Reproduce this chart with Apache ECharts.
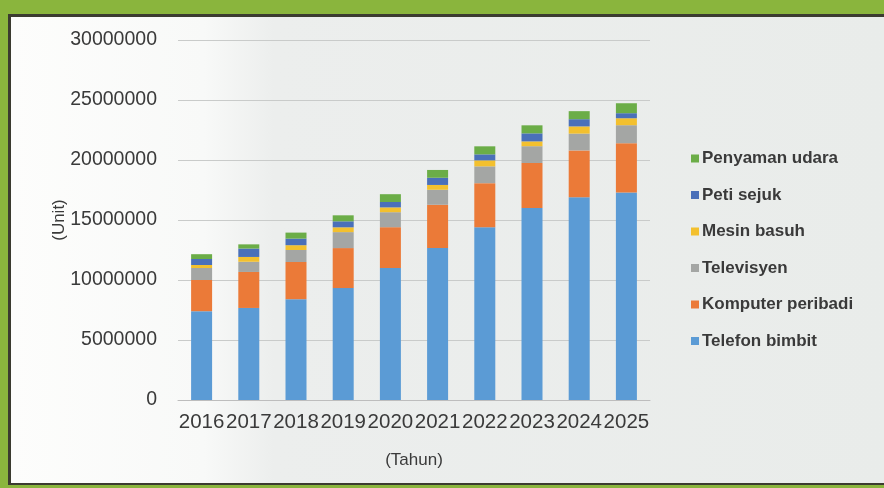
<!DOCTYPE html>
<html>
<head>
<meta charset="utf-8">
<script src="https://cdn.jsdelivr.net/npm/echarts@6/dist/echarts.min.js"></script>
<style>html,body{margin:0;padding:0;background:#8ab53d;}#c{width:884px;height:488px;}</style>
</head>
<body>
<div id="c"></div>
<script>
const years = ['2016','2017','2018','2019','2020','2021','2022','2023','2024','2025'];
const telefonBimbit   = [7400000, 7670000, 8400000, 9330000, 11000000, 12670000, 14400000, 16000000, 16900000, 17300000];
const komputerPeribadi = [2600000, 3000000, 3100000, 3330000, 3400000, 3600000, 3670000, 3750000, 3900000, 4100000];
const televisyen      = [1000000, 850000, 1000000, 1330000, 1250000, 1250000, 1400000, 1400000, 1400000, 1500000];
const mesinBasuh      = [250000, 400000, 400000, 400000, 400000, 400000, 500000, 400000, 600000, 580000];
const petiSejuk       = [500000, 700000, 550000, 500000, 450000, 600000, 500000, 670000, 600000, 420000];
const penyamanUdara   = [400000, 350000, 500000, 500000, 650000, 650000, 670000, 670000, 670000, 830000];
const yTicks = [0, 5000000, 10000000, 15000000, 20000000, 25000000, 30000000];

const names = ['Telefon bimbit','Komputer peribadi','Televisyen','Mesin basuh','Peti sejuk','Penyaman udara'];
const values = [telefonBimbit, komputerPeribadi, televisyen, mesinBasuh, petiSejuk, penyamanUdara];
const colors = ['#5b9bd5','#eb7a38','#a4a6a4','#f3c02e','#4a70b9','#6bad47'];
const FONT = 'Liberation Sans, Arial, sans-serif';

const chart = echarts.init(document.getElementById('c'));
chart.setOption({
  animation: false,
  graphic: [
    {type:'rect', z:-10, silent:true, shape:{x:0,y:0,width:884,height:488}, style:{fill:'#8ab53d'}},
    {type:'rect', z:-9, silent:true, shape:{x:8,y:14,width:880,height:471}, style:{fill:'#3b3b30'}},
    {type:'rect', z:-8, silent:true, shape:{x:11,y:17,width:877,height:466},
      style:{fill:new echarts.graphic.LinearGradient(0,0,1,0,[
        {offset:0,color:'#fdfdfc'},{offset:0.22,color:'#f8f9f8'},{offset:0.3,color:'#eceeed'},{offset:1,color:'#e9ecea'}])}}
  ],
  color: colors,
  legend: {
    orient: 'vertical',
    left: 686,
    top: 145,
    itemWidth: 8,
    itemHeight: 8,
    itemGap: 19.5,
    icon: 'rect',
    data: names.slice().reverse(),
    textStyle: {fontFamily:FONT, fontSize:17, fontWeight:'bold', color:'#3a3a3a', padding:[0,0,0,-2]}
  },
  grid: {left:178, right:234, top:40, bottom:88},
  xAxis: {
    type: 'category',
    data: years,
    name: '(Tahun)',
    nameLocation: 'middle',
    nameGap: 52,
    nameMoveOverlap: false,
    nameTextStyle: {fontFamily:FONT, fontSize:17, color:'#3a3a3a'},
    axisLine: {lineStyle:{color:'#bdbdbd', width:1}},
    axisTick: {show:false},
    axisLabel: {fontFamily:FONT, fontSize:20.5, color:'#3a3a3a', margin:12, interval:0}
  },
  yAxis: {
    type: 'value',
    min: yTicks[0],
    max: yTicks[yTicks.length-1],
    interval: yTicks[1]-yTicks[0],
    name: '(Unit)',
    nameLocation: 'middle',
    nameRotate: 90,
    nameGap: 110,
    nameMoveOverlap: false,
    nameTextStyle: {fontFamily:FONT, fontSize:17, color:'#3a3a3a'},
    axisLine: {show:false},
    axisTick: {show:false},
    splitLine: {lineStyle:{color:'#c9cbca', width:1}},
    axisLabel: {fontFamily:FONT, fontSize:19.5, color:'#3a3a3a', margin:21, formatter: v => String(v)}
  },
  series: names.map((n,i)=>({
    name: n,
    type: 'bar',
    stack: 'total',
    barWidth: 21,
    data: values[i],
    itemStyle: {color: colors[i]}
  }))
});
</script>
</body>
</html>
